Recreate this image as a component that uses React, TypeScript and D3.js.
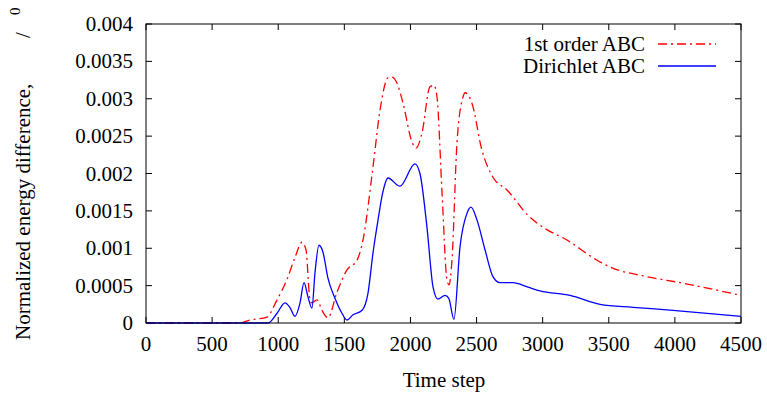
import React from "react";
import * as d3 from "d3";

const redT = [0, 700, 787, 915, 991, 1066, 1127, 1180, 1210, 1240, 1255, 1293, 1331, 1376, 1444, 1520, 1596, 1641, 1717, 1770, 1830, 1860, 1898, 1944, 2012, 2042, 2087, 2148, 2178, 2201, 2239, 2276, 2292, 2314, 2352, 2397, 2413, 2465, 2541, 2624, 2730, 2889, 3003, 3184, 3411, 3509, 3789, 4039, 4500];
const redV = [0, 0, 0.00004, 0.00008, 0.00031, 0.00058, 0.00088, 0.00108, 0.00098, 0.00031, 0.00027, 0.00031, 0.00017, 0.00007, 0.00041, 0.00071, 0.00084, 0.00111, 0.00209, 0.00285, 0.00328, 0.00329, 0.00321, 0.00294, 0.00242, 0.00234, 0.00254, 0.00316, 0.00318, 0.00302, 0.00174, 0.00058, 0.00051, 0.00084, 0.00241, 0.00302, 0.00308, 0.00294, 0.00231, 0.00195, 0.00178, 0.00144, 0.00128, 0.00111, 0.00084, 0.00075, 0.00062, 0.00054, 0.00037];

const blueT = [0, 923, 991, 1051, 1088, 1127, 1165, 1195, 1225, 1255, 1278, 1308, 1338, 1376, 1429, 1482, 1520, 1566, 1634, 1679, 1717, 1755, 1790, 1830, 1921, 2034, 2072, 2125, 2171, 2208, 2261, 2290, 2329, 2375, 2428, 2458, 2503, 2564, 2624, 2677, 2776, 2889, 2980, 3207, 3434, 3683, 3986, 4500];
const blueV = [0, 0, 0.00013, 0.00027, 0.00021, 0.00009, 0.00027, 0.00054, 0.00035, 0.0002, 0.00067, 0.00104, 0.00095, 0.0006, 0.00033, 0.00013, 0.00004, 0.00011, 0.00017, 0.0004, 0.00094, 0.00138, 0.00174, 0.00194, 0.00183, 0.00213, 0.002, 0.00128, 0.00048, 0.00032, 0.00037, 0.00033, 0.00005, 0.00102, 0.00147, 0.00155, 0.00138, 0.00098, 0.00062, 0.00054, 0.00054, 0.00048, 0.00043, 0.00037, 0.00025, 0.00021, 0.00017, 0.00009];

const xTicks = [0, 500, 1000, 1500, 2000, 2500, 3000, 3500, 4000, 4500];
const yTicks = [0, 0.0005, 0.001, 0.0015, 0.002, 0.0025, 0.003, 0.0035, 0.004];
const yTickLabels = ["0", "0.0005", "0.001", "0.0015", "0.002", "0.0025", "0.003", "0.0035", "0.004"];
const seriesNames = ["1st order ABC", "Dirichlet ABC"];

const W = 767, H = 393;
const L = 146, R = 741, T = 24, B = 323;
const FONT = "Liberation Serif, Times New Roman, DejaVu Serif, serif";
const ts: React.CSSProperties = { fontFamily: FONT };

export default function App() {
  const x = d3.scaleLinear().domain([0, 4500]).range([L, R]);
  const y = d3.scaleLinear().domain([0, 0.004]).range([B, T]);
  const line = d3
    .line<[number, number]>()
    .x((d) => x(d[0]))
    .y((d) => y(d[1]))
    .curve(d3.curveMonotoneX);
  const red = redT.map((t, i) => [t, redV[i]] as [number, number]);
  const blue = blueT.map((t, i) => [t, blueV[i]] as [number, number]);
  const tk = 6;
  return (
    <svg width={W} height={H} style={{ position: "absolute", left: 0, top: 0, background: "#fff" }}>
      <rect x={0} y={0} width={W} height={H} fill="#fff" />
      {xTicks.map((t) => (
        <g key={"x" + t}>
          <line x1={x(t)} x2={x(t)} y1={B} y2={B - tk} stroke="#000" />
          <line x1={x(t)} x2={x(t)} y1={T} y2={T + tk} stroke="#000" />
          <text x={x(t)} y={351} fontSize={21} textAnchor="middle" fill="#000" style={ts}>
            {t}
          </text>
        </g>
      ))}
      {yTicks.map((v, i) => (
        <g key={"y" + i}>
          <line x1={L} x2={L + tk} y1={y(v)} y2={y(v)} stroke="#000" />
          <line x1={R} x2={R - tk} y1={y(v)} y2={y(v)} stroke="#000" />
          <text x={133} y={y(v) + 7} fontSize={21} textAnchor="end" fill="#000" style={ts}>
            {yTickLabels[i]}
          </text>
        </g>
      ))}
      <path d={line(red) || ""} fill="none" stroke="#ff0000" strokeWidth={1.3} strokeDasharray="9,4,2,4" />
      <path d={line(blue) || ""} fill="none" stroke="#0000ff" strokeWidth={1.3} />
      <rect x={L} y={T} width={R - L} height={B - T} fill="none" stroke="#000" strokeWidth={1} />
      <text x={645} y={51} fontSize={21} textAnchor="end" fill="#000" style={ts}>{seriesNames[0]}</text>
      <line x1={658} x2={716} y1={44} y2={44} stroke="#ff0000" strokeWidth={1.3} strokeDasharray="9,4,2,4" />
      <text x={645} y={73} fontSize={21} textAnchor="end" fill="#000" style={ts}>{seriesNames[1]}</text>
      <line x1={658} x2={716} y1={66} y2={66} stroke="#0000ff" strokeWidth={1.3} />
      <text x={444} y={387} fontSize={21} textAnchor="middle" fill="#000" style={ts}>Time step</text>
      <text transform="translate(30,340) rotate(-90)" fontSize={21} fill="#000" style={ts}>Normalized energy difference,</text>
      <text transform="translate(30,38) rotate(-90)" fontSize={21} fill="#000" style={ts}>/</text>
      <text transform="translate(20,15) rotate(-90)" fontSize={15} fill="#000" style={ts}>0</text>
    </svg>
  );
}
